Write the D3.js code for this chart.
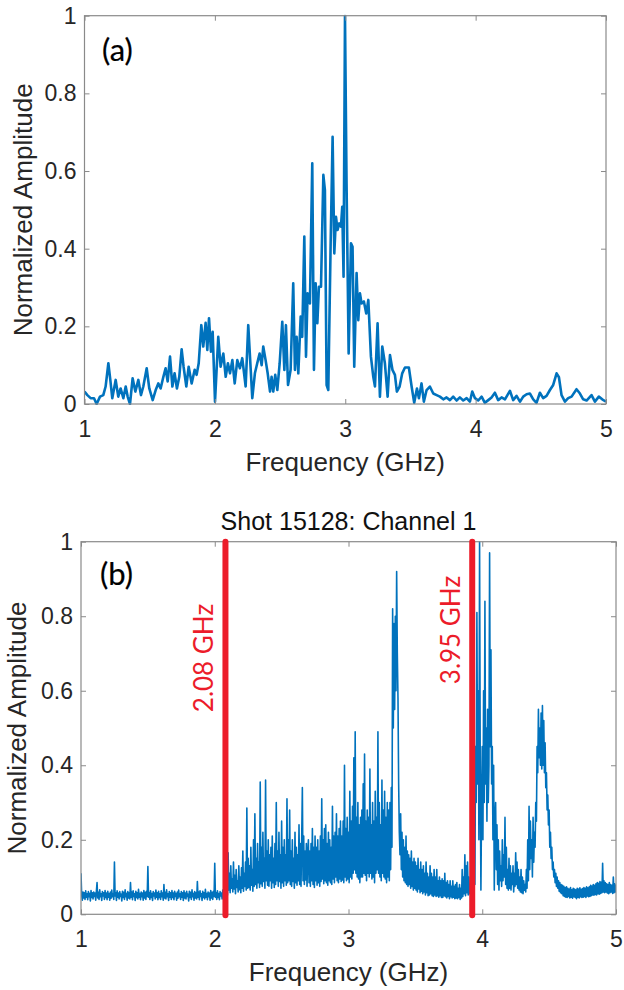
<!DOCTYPE html>
<html><head><meta charset="utf-8">
<script src="https://cdn.jsdelivr.net/npm/d3@7"></script>
<style>body{margin:0;background:#fff;} svg{display:block;}</style>
</head><body><svg id="chart" width="624" height="990"></svg>
<script>
// ---------- DATA ----------
const freqA = [
1.000,1.022,1.047,1.073,1.093,1.119,1.144,1.162,1.183,1.198,
1.213,1.239,1.259,1.277,1.298,1.316,1.331,1.349,1.369,1.390,
1.413,1.433,1.451,1.477,1.497,1.523,1.546,1.566,1.584,1.605,
1.622,1.638,1.656,1.674,1.691,1.709,1.727,1.745,1.760,1.781,
1.799,1.822,1.845,1.860,1.876,1.896,1.911,1.929,1.942,1.955,
1.970,1.983,2.001,2.026,2.044,2.065,2.083,2.100,2.116,2.134,
2.152,2.172,2.192,2.210,2.236,2.256,2.287,2.307,2.325,2.343,
2.359,2.371,2.389,2.405,2.423,2.435,2.448,2.463,2.479,2.497,
2.517,2.533,2.545,2.561,2.581,2.601,2.614,2.627,2.640,2.658,
2.670,2.686,2.699,2.711,2.729,2.747,2.760,2.773,2.786,2.798,
2.814,2.832,2.844,2.857,2.870,2.888,2.903,2.916,2.929,2.941,
2.954,2.967,2.977,2.987,2.998,3.010,3.026,3.044,3.056,3.069,
3.087,3.100,3.113,3.125,3.143,3.161,3.177,3.197,3.215,3.228,
3.248,3.266,3.284,3.304,3.325,3.343,3.362,
3.381,3.396,3.417,3.437,3.458,3.488,3.509,3.529,3.550,3.565,
3.585,3.603,3.624,3.649,3.675,3.701,3.726,3.752,3.777,3.803,
3.828,3.854,3.879,3.905,3.931,3.956,3.974,3.995,4.020,4.046,
4.071,4.097,4.122,4.148,4.173,4.199,4.225,4.263,4.288,4.314,
4.340,4.365,4.391,4.416,4.442,4.467,4.493,4.518,4.544,4.570,
4.595,4.621,4.639,4.659,4.685,4.710,4.736,4.774,4.800,4.825,
4.851,4.889,4.915,4.945,4.971,5.000];
const ampA = [
0.032,0.023,0.015,0.015,0.000,0.019,0.023,0.045,0.105,0.062,
0.015,0.062,0.019,0.040,0.015,0.045,0.019,0.000,0.066,0.032,
0.062,0.023,0.045,0.092,0.040,0.010,0.036,0.053,0.040,0.070,
0.092,0.058,0.122,0.045,0.079,0.040,0.070,0.141,0.096,0.045,
0.096,0.053,0.088,0.075,0.105,0.203,0.148,0.209,0.139,0.221,
0.135,0.186,0.006,0.173,0.096,0.130,0.070,0.105,0.079,0.113,
0.053,0.113,0.092,0.118,0.045,0.203,0.015,0.079,0.105,0.130,
0.100,0.148,0.113,0.079,0.032,0.070,0.032,0.075,0.036,0.105,
0.212,0.088,0.203,0.049,0.088,0.311,0.088,0.173,0.079,0.225,
0.173,0.431,0.122,0.285,0.259,0.620,0.088,0.311,0.208,0.302,
0.302,0.590,0.551,0.049,0.036,0.414,0.688,0.388,0.482,0.448,
0.465,0.457,0.508,0.328,1.000,0.568,0.130,0.414,0.405,0.096,
0.337,0.216,0.285,0.259,0.264,0.233,0.268,0.122,0.070,0.045,
0.208,0.019,0.148,0.105,0.019,0.126,0.088,
0.075,0.032,0.045,0.079,0.094,0.094,0.045,0.003,0.040,0.015,
0.053,0.006,0.036,0.045,0.027,0.023,0.019,0.012,0.017,0.010,
0.019,0.009,0.017,0.009,0.015,0.006,0.032,0.015,0.009,0.019,
0.003,0.010,0.017,0.029,0.010,0.017,0.012,0.034,0.010,0.021,
0.006,0.019,0.025,0.027,0.012,0.003,0.029,0.015,0.021,0.036,
0.049,0.079,0.069,0.023,0.006,0.015,0.019,0.038,0.027,0.012,
0.009,0.023,0.006,0.019,0.012,0.006];

// Panel (b): samples every 0.005 GHz starting at 1.000 GHz (one row = 0.05 GHz)
const freqStartB = 1.0;
const freqStepB = 0.005;
const ampB = [
0.110,0.052,0.038,0.060,0.044,0.058,0.040,0.063,0.046,0.055,
0.039,0.061,0.047,0.056,0.036,0.064,0.045,0.058,0.041,0.060,
0.048,0.057,0.038,0.062,0.085,0.044,0.059,0.040,0.066,0.047,
0.055,0.037,0.061,0.049,0.058,0.040,0.064,0.045,0.057,0.039,
0.062,0.046,0.056,0.038,0.060,0.043,0.065,0.047,0.055,0.040,
0.140,0.049,0.058,0.037,0.063,0.046,0.057,0.041,0.061,0.048,
0.054,0.036,0.062,0.045,0.059,0.040,0.066,0.047,0.056,0.038,
0.061,0.044,0.058,0.041,0.085,0.046,0.060,0.039,0.063,0.048,
0.055,0.037,0.062,0.045,0.058,0.041,0.067,0.046,0.056,0.039,
0.060,0.047,0.057,0.038,0.064,0.044,0.059,0.040,0.062,0.048,
0.128,0.046,0.058,0.040,0.063,0.045,0.056,0.037,0.061,0.049,
0.057,0.041,0.065,0.046,0.058,0.039,0.062,0.045,0.055,0.040,
0.063,0.047,0.057,0.038,0.080,0.044,0.059,0.041,0.066,0.047,
0.055,0.037,0.061,0.046,0.058,0.040,0.064,0.045,0.057,0.039,
0.062,0.048,0.056,0.038,0.060,0.043,0.065,0.047,0.055,0.040,
0.061,0.046,0.058,0.037,0.063,0.044,0.057,0.041,0.062,0.048,
0.054,0.036,0.062,0.045,0.059,0.040,0.066,0.047,0.056,0.038,
0.061,0.044,0.058,0.041,0.088,0.046,0.060,0.039,0.063,0.048,
0.055,0.037,0.062,0.045,0.058,0.041,0.067,0.046,0.056,0.039,
0.060,0.047,0.057,0.038,0.064,0.044,0.059,0.040,0.062,0.048,
0.137,0.046,0.058,0.040,0.063,0.045,0.056,0.039,0.061,0.049,
0.057,0.041,0.065,0.046,0.058,0.042,0.062,0.047,0.060,0.052,
0.165,0.065,0.110,0.058,0.130,0.070,0.095,0.060,0.140,0.068,
0.105,0.055,0.120,0.072,0.090,0.060,0.130,0.066,0.100,0.058,
0.125,0.070,0.170,0.062,0.110,0.075,0.140,0.065,0.285,0.070,
0.150,0.072,0.130,0.065,0.180,0.078,0.120,0.062,0.200,0.075,
0.270,0.080,0.150,0.070,0.190,0.085,0.140,0.072,0.355,0.082,
0.180,0.075,0.220,0.088,0.150,0.070,0.360,0.090,0.170,0.078,
0.200,0.075,0.160,0.090,0.180,0.070,0.210,0.085,0.150,0.072,
0.190,0.080,0.300,0.090,0.170,0.075,0.220,0.088,0.160,0.070,
0.250,0.085,0.180,0.075,0.200,0.090,0.160,0.078,0.310,0.085,
0.200,0.090,0.280,0.080,0.170,0.075,0.200,0.088,0.150,0.070,
0.220,0.085,0.180,0.078,0.160,0.090,0.240,0.080,0.190,0.075,
0.200,0.340,0.090,0.210,0.080,0.170,0.092,0.190,0.075,0.160,
0.200,0.085,0.170,0.075,0.190,0.090,0.230,0.080,0.180,0.072,
0.210,0.090,0.180,0.078,0.200,0.085,0.170,0.075,0.210,0.088,
0.310,0.095,0.200,0.082,0.230,0.090,0.240,0.085,0.190,0.078,
0.220,0.090,0.200,0.085,0.180,0.080,0.290,0.095,0.210,0.085,
0.220,0.100,0.270,0.090,0.210,0.085,0.230,0.095,0.250,0.088,
0.210,0.092,0.250,0.085,0.400,0.100,0.230,0.090,0.260,0.095,
0.220,0.085,0.330,0.100,0.250,0.095,0.290,0.110,0.420,0.120,
0.490,0.110,0.260,0.100,0.300,0.095,0.240,0.085,0.260,0.100,
0.280,0.100,0.350,0.110,0.430,0.105,0.250,0.090,0.280,0.110,
0.260,0.100,0.390,0.110,0.240,0.095,0.300,0.100,0.250,0.085,
0.330,0.110,0.260,0.120,0.490,0.110,0.300,0.100,0.240,0.090,
0.360,0.110,0.280,0.100,0.330,0.095,0.260,0.085,0.300,0.100,
0.280,0.090,0.300,0.120,0.340,0.180,0.820,0.500,0.780,0.550,
0.800,0.600,0.920,0.700,0.580,0.350,0.220,0.160,0.270,0.120,
0.220,0.100,0.200,0.090,0.180,0.085,0.210,0.080,0.170,0.075,
0.160,0.080,0.150,0.070,0.170,0.075,0.140,0.065,0.150,0.070,
0.140,0.065,0.130,0.060,0.150,0.068,0.120,0.058,0.140,0.062,
0.120,0.055,0.130,0.060,0.110,0.052,0.140,0.058,0.110,0.050,
0.100,0.052,0.130,0.055,0.110,0.050,0.100,0.048,0.120,0.052,
0.100,0.048,0.120,0.050,0.090,0.046,0.100,0.050,0.090,0.045,
0.095,0.045,0.090,0.050,0.110,0.047,0.085,0.044,0.090,0.048,
0.080,0.042,0.090,0.047,0.075,0.044,0.090,0.046,0.075,0.042,
0.080,0.044,0.085,0.042,0.070,0.045,0.080,0.040,0.070,0.044,
0.120,0.048,0.100,0.055,0.160,0.050,0.130,0.058,0.140,0.052,
0.100,0.055,0.080,0.060,0.070,0.065,0.300,0.070,0.350,0.080,
0.450,0.300,0.810,0.350,0.600,0.200,1.000,0.400,0.065,0.300,
0.450,0.200,0.600,0.300,0.840,0.350,0.500,0.250,0.550,0.300,
0.400,0.970,0.450,0.710,0.350,0.450,0.200,0.400,0.065,0.250,
0.300,0.120,0.240,0.080,0.200,0.065,0.170,0.090,0.130,0.075,
0.200,0.090,0.160,0.100,0.260,0.080,0.180,0.070,0.120,0.065,
0.150,0.070,0.130,0.065,0.110,0.080,0.130,0.060,0.110,0.075,
0.165,0.080,0.140,0.070,0.120,0.065,0.100,0.060,0.120,0.058,
0.100,0.055,0.090,0.065,0.080,0.060,0.120,0.070,0.200,0.090,
0.290,0.120,0.250,0.150,0.200,0.100,0.260,0.140,0.220,0.180,
0.300,0.250,0.450,0.380,0.550,0.420,0.500,0.400,0.540,0.390,
0.560,0.400,0.520,0.380,0.460,0.340,0.380,0.280,0.320,0.240,
0.280,0.180,0.220,0.150,0.180,0.120,0.140,0.100,0.120,0.085,
0.110,0.075,0.100,0.070,0.090,0.062,0.085,0.058,0.080,0.055,
0.078,0.050,0.075,0.048,0.072,0.046,0.074,0.045,0.070,0.048,
0.068,0.044,0.072,0.046,0.066,0.043,0.070,0.047,0.068,0.045,
0.066,0.042,0.070,0.046,0.068,0.044,0.071,0.047,0.067,0.045,
0.069,0.046,0.072,0.048,0.070,0.045,0.074,0.049,0.071,0.047,
0.074,0.048,0.078,0.050,0.076,0.052,0.080,0.051,0.078,0.053,
0.082,0.052,0.085,0.055,0.083,0.054,0.088,0.056,0.086,0.058,
0.137,0.060,0.090,0.058,0.085,0.060,0.082,0.057,0.080,0.055,
0.085,0.058,0.080,0.060,0.078,0.056,0.100,0.058,0.082,0.060,
0.080];

const xTicks = [1, 2, 3, 4, 5];
const yTicks = [0, 0.2, 0.4, 0.6, 0.8, 1];
const markerFreqs = [2.08, 3.925];
const markerLabels = ["2.08 GHz", "3.95 GHz"];
const panelTags = ["(a)", "(b)"];
const titleB = "Shot 15128: Channel 1";
const xLabel = "Frequency (GHz)";
const yLabel = "Normalized Amplitude";

// ---------- DRAW ----------
const svg = d3.select("#chart");
const BLUE = "#0072BD", RED = "#ec1c2a", AXIS = "#8a8a8a", TXT = "#262626";
const tickFont = "'Liberation Sans', Arial, sans-serif";

function drawPanel(p) {
  const x = d3.scaleLinear().domain([1, 5]).range([p.left, p.right]);
  const y = d3.scaleLinear().domain([0, 1]).range([p.bottom, p.top]);
  const g = svg.append("g");

  svg.append("clipPath").attr("id", "clip" + p.id)
    .append("rect").attr("x", p.left).attr("y", p.top - 1)
    .attr("width", p.right - p.left).attr("height", p.bottom - p.top + 2);

  g.append("path").datum(p.points)
    .attr("clip-path", `url(#clip${p.id})`)
    .attr("fill", "none").attr("stroke", BLUE)
    .attr("stroke-width", p.lw).attr("stroke-linejoin", "round")
    .attr("d", d3.line().x(d => x(d[0])).y(d => y(d[1])));

  const fmtY = d3.format("~g");
  const styleAxis = (sel, showLabels) => {
    sel.select(".domain").remove();
    sel.selectAll(".tick line").attr("stroke", AXIS).attr("stroke-width", 1);
    sel.selectAll(".tick text").attr("fill", TXT)
      .style("font-family", tickFont).style("font-size", "23px");
    if (!showLabels) sel.selectAll(".tick text").remove();
  };
  g.append("g").attr("transform", `translate(0,${p.bottom})`)
    .call(d3.axisBottom(x).tickValues(xTicks).tickSize(-5).tickPadding(p.xPad).tickFormat(d3.format("d")))
    .call(s => styleAxis(s, true));
  g.append("g").attr("transform", `translate(0,${p.top})`)
    .call(d3.axisTop(x).tickValues(xTicks).tickSize(-5))
    .call(s => styleAxis(s, false));
  g.append("g").attr("transform", `translate(${p.left},0)`)
    .call(d3.axisLeft(y).tickValues(yTicks).tickSize(-5).tickPadding(8).tickFormat(fmtY))
    .call(s => styleAxis(s, true));
  g.append("g").attr("transform", `translate(${p.right},0)`)
    .call(d3.axisRight(y).tickValues(yTicks).tickSize(-5))
    .call(s => styleAxis(s, false));

  g.append("rect").attr("x", p.left).attr("y", p.top)
    .attr("width", p.right - p.left).attr("height", p.bottom - p.top)
    .attr("fill", "none").attr("stroke", AXIS).attr("stroke-width", 1.2);

  // axis labels
  g.append("text").attr("x", (p.left + p.right) / 2).attr("y", p.xLabelY)
    .attr("text-anchor", "middle").attr("fill", TXT)
    .style("font-family", tickFont).style("font-size", "26px").text(xLabel);
  g.append("text").attr("transform", `translate(${p.yLabelX},${(p.top + p.bottom) / 2}) rotate(-90)`)
    .attr("text-anchor", "middle").attr("fill", TXT)
    .style("font-family", tickFont).style("font-size", "26px").text(yLabel);

  // tag
  g.append("text").attr("x", p.tagX).attr("y", p.tagY)
    .attr("fill", "#000").attr("stroke", "#000").attr("stroke-width", 0.2)
    .style("font-family", "Lato, 'Open Sans', sans-serif")
    .style("font-size", "31px").style("font-weight", 400).text(p.tag);

  if (p.title) {
    g.append("text").attr("x", (p.left + p.right) / 2).attr("y", p.titleY)
      .attr("text-anchor", "middle").attr("fill", "#111")
      .style("font-family", tickFont).style("font-size", "25px").text(p.title);
  }
  if (p.markers) {
    p.markers.forEach((m, i) => {
      g.append("line").attr("x1", x(m)).attr("x2", x(m))
        .attr("y1", p.top).attr("y2", p.bottom + 1)
        .attr("stroke", RED).attr("stroke-width", 6).attr("stroke-linecap", "round");
      g.append("text")
        .attr("transform", `translate(${x(m) - 12},${p.markerLabelY[i]}) rotate(-90)`)
        .attr("text-anchor", "middle").attr("fill", RED)
        .style("font-family", "Lato, 'Open Sans', sans-serif").style("font-size", "26px")
        .text(markerLabels[i]);
    });
  }
}

const pointsA = freqA.map((f, i) => [f, ampA[i]]);
const pointsB = ampB.map((v, i) => [freqStartB + i * freqStepB, v]);

drawPanel({
  id: "a", left: 84.5, right: 606, top: 15.7, bottom: 404,
  points: pointsA, lw: 2.6, xPad: 17, xLabelY: 471, yLabelX: 32,
  tag: panelTags[0], tagX: 102, tagY: 61
});
drawPanel({
  id: "b", left: 81, right: 616, top: 541.7, bottom: 914.3,
  points: pointsB, lw: 1.6, xPad: 16, xLabelY: 981, yLabelX: 26,
  tag: panelTags[1], tagX: 100, tagY: 585,
  title: titleB, titleY: 530,
  markers: markerFreqs, markerLabelY: [658, 630]
});
</script>
</body></html>
